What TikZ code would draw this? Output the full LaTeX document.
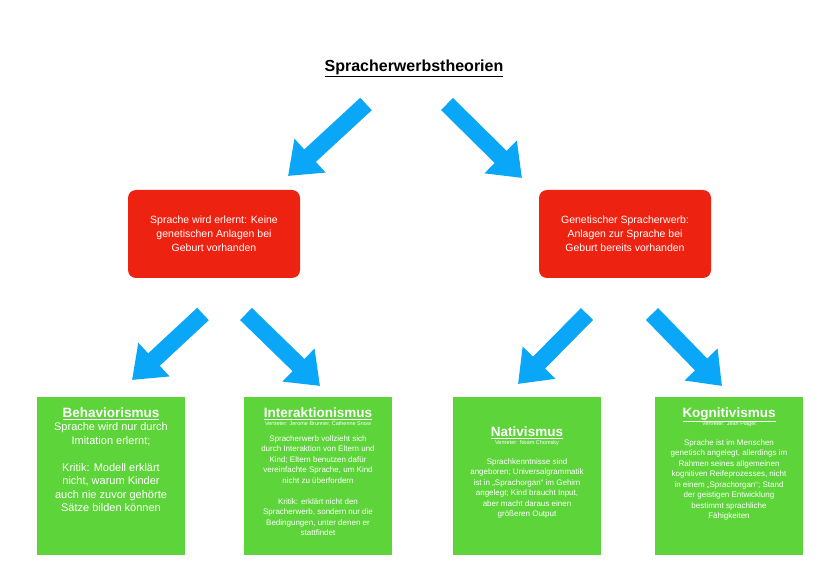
\documentclass[tikz,border=0pt]{standalone}
\usepackage{fontspec}
\setmainfont{Liberation Sans}
\usetikzlibrary{arrows.meta}
\definecolor{rd}{HTML}{EE2211}
\definecolor{gr}{HTML}{5DD43A}
\definecolor{bl}{HTML}{0AA6F7}
\tikzset{
  redbox/.style={fill=rd,rounded corners=8pt,minimum width=172pt,minimum height=88pt,text=white,align=center,font=\fontsize{10.5}{14}\selectfont,inner sep=0pt},
  grbox/.style={fill=gr,minimum width=148pt,minimum height=158pt,text=white,align=center,inner sep=0pt},
  barrow/.style={bl,line width=17pt,-{Triangle[width=44pt,length=30pt]}},
}
\newcommand{\ttl}[1]{{\fontsize{13.5}{16}\selectfont\bfseries\underline{#1}}}
\newcommand{\vtr}[1]{{\fontsize{5.5}{7}\selectfont #1}}
\begin{document}
\begin{tikzpicture}[x=1pt,y=-1pt]
\useasboundingbox (0,0) rectangle (828,585);
\fill[white] (0,0) rectangle (828,585);
\node (title) at (414,68) {\fontsize{16}{18}\selectfont\bfseries\underline{Spracherwerbstheorien}};
\node[redbox] (rl) at (214,234) {Sprache wird erlernt: Keine\\genetischen Anlagen bei\\Geburt vorhanden};
\node[redbox] (rr) at (625,234) {Genetischer Spracherwerb:\\Anlagen zur Sprache bei\\Geburt bereits vorhanden};
\node[grbox] (b) at (111,476) {};
\node[align=center,text=white,font=\fontsize{11}{13.5}\selectfont,anchor=north] (bt) at (111,404) {\ttl{Behaviorismus}\\Sprache wird nur durch\\Imitation erlernt;\\[13.5pt]Kritik: Modell erklärt\\nicht, warum Kinder\\auch nie zuvor gehörte\\Sätze bilden können};
\node[grbox] (i) at (318,476) {};
\node[align=center,text=white,font=\fontsize{8}{10.5}\selectfont,anchor=north] (it) at (318,404) {\ttl{Interaktionismus}\\[-2pt]\vtr{Vertreter: Jerome Brunner, Catherine Snow}\\[5pt]Spracherwerb vollzieht sich\\durch Interaktion von Eltern und\\Kind; Eltern benutzen dafür\\vereinfachte Sprache, um Kind\\nicht zu überfordern\\[10.5pt]Kritik: erklärt nicht den\\Spracherwerb, sondern nur die\\Bedingungen, unter denen er\\stattfindet};
\node[grbox] (n) at (527,476) {};
\node[align=center,text=white,font=\fontsize{8}{10.5}\selectfont,anchor=north] (nt) at (527,423) {\ttl{Nativismus}\\[-2pt]\vtr{Vertreter: Noam Chomsky}\\[9pt]Sprachkenntnisse sind\\angeboren; Universalgrammatik\\ist in „Sprachorgan“ im Gehirn\\angelegt; Kind braucht Input,\\aber macht daraus einen\\größeren Output};
\node[grbox] (k) at (729,476) {};
\node[align=center,text=white,font=\fontsize{8}{10.5}\selectfont,anchor=north] (kt) at (729,404) {\ttl{Kognitivismus}\\[-2pt]\vtr{Vertreter: Jean Piaget}\\[9pt]Sprache ist im Menschen\\genetisch angelegt, allerdings im\\Rahmen seines allgemeinen\\kognitiven Reifeprozesses, nicht\\in einem „Sprachorgan“; Stand\\der geistigen Entwicklung\\bestimmt sprachliche\\Fähigkeiten};
\coordinate (a1s) at (366,104); \coordinate (a1e) at (288,176);
\coordinate (a2s) at (447,104); \coordinate (a2e) at (522,178);
\coordinate (a3s) at (203,314); \coordinate (a3e) at (132,380);
\coordinate (a4s) at (246,314); \coordinate (a4e) at (320,386);
\coordinate (a5s) at (587,314); \coordinate (a5e) at (518,384);
\coordinate (a6s) at (652,314); \coordinate (a6e) at (722,386);
\foreach \s/\e in {a1s/a1e,a2s/a2e,a3s/a3e,a4s/a4e,a5s/a5e,a6s/a6e}
  \draw[barrow] (\s) -- (\e);
\end{tikzpicture}
\end{document}
